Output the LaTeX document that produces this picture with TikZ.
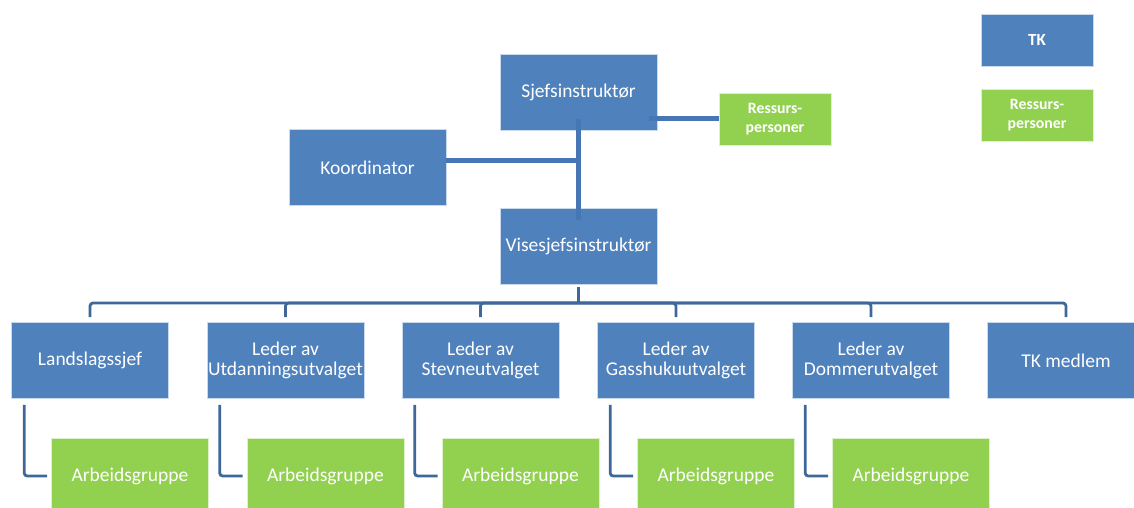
\documentclass[tikz,border=0pt]{standalone}
\usepackage{fontspec}
\setmainfont{Carlito}
\usetikzlibrary{positioning}

\definecolor{tkblue}{HTML}{4F81BD}
\definecolor{resgreen}{HTML}{92D050}
\definecolor{linkblue}{HTML}{4676B4}
\definecolor{busblue}{HTML}{3D6899}

\begin{document}
\begin{tikzpicture}[x=1pt,y=-1pt,
  tkbox/.style={fill=tkblue,draw=white!70!tkblue,line width=0.6pt,text=white,
    minimum width=157pt,minimum height=76pt,inner sep=0pt,align=center,
    font=\fontsize{19.5}{20}\selectfont},
  groupbox/.style={tkbox,fill=resgreen,draw=white!70!resgreen},
  resbox/.style={fill=resgreen,draw=white!70!resgreen,line width=0.6pt,text=white,
    minimum width=112pt,minimum height=52pt,inner sep=0pt,align=center,
    font=\fontsize{15.8}{19}\selectfont\bfseries},
  link/.style={draw=linkblue,line width=5pt},
  bus/.style={draw=busblue,line width=2.8pt,rounded corners=3pt}]
  \clip (0,0) rectangle (1134,508);

  % top of the chart
  \node[tkbox] (sjef) at (578.5,92.5) {Sjefsinstruktør};
  \node[resbox] (res) at (775,119) {Ressurs-\\personer};
  \node[tkbox] (koord) at (367.5,167.5) {Koordinator};
  \node[tkbox] (vise) at (578.5,246.5) {Visesjefsinstruktør};

  % legend
  \node[resbox,fill=tkblue,draw=white!70!tkblue,font=\fontsize{17}{19}\selectfont\bfseries]
    (legtk) at (1037,40) {TK};
  \node[resbox] (legres) at (1037,115) {Ressurs-\\personer};

  % row of leaders
  \node[tkbox] (lands) at (90,360.5) {Landslagssjef};
  \node[tkbox] (utd) at (285.5,360.5) {Leder av\\Utdanningsutvalget};
  \node[tkbox] (stevne) at (480.5,360.5) {Leder av\\Stevneutvalget};
  \node[tkbox] (gass) at (676,360.5) {Leder av\\Gasshukuutvalget};
  \node[tkbox] (dommer) at (871,360.5) {Leder av\\Dommerutvalget};
  \node[tkbox] (medlem) at (1066,360.5) {TK medlem};

  % working groups
  \node[groupbox] (grp1) at (130,476) {Arbeidsgruppe};
  \node[groupbox] (grp2) at (325.5,476) {Arbeidsgruppe};
  \node[groupbox] (grp3) at (520.5,476) {Arbeidsgruppe};
  \node[groupbox] (grp4) at (716,476) {Arbeidsgruppe};
  \node[groupbox] (grp5) at (911,476) {Arbeidsgruppe};

  % links at the top
  \draw[link] ([yshift=12pt]sjef.south) -- ([yshift=-12pt]vise.north);
  \coordinate (kj) at ([yshift=7pt]koord.east);
  \draw[link] (kj) -- (kj -| sjef.south);
  \coordinate (rj) at ([xshift=-8pt]sjef.east |- res.west);
  \draw[link] (rj) -- (res.west);

  % bus to the leaders
  \coordinate (bus) at (578.5,303);
  \draw[bus] ([yshift=-2pt]vise.south) -- (bus);
  \foreach \n in {lands,utd,stevne,gass,dommer,medlem}
    \draw[bus] (bus) -| ([yshift=5pt]\n.north);

  % leaders to their groups
  \draw[bus] ([xshift=13pt,yshift=-6pt]lands.south west) |- ([xshift=-4pt]grp1.west);
  \draw[bus] ([xshift=13pt,yshift=-6pt]utd.south west) |- ([xshift=-4pt]grp2.west);
  \draw[bus] ([xshift=13pt,yshift=-6pt]stevne.south west) |- ([xshift=-4pt]grp3.west);
  \draw[bus] ([xshift=13pt,yshift=-6pt]gass.south west) |- ([xshift=-4pt]grp4.west);
  \draw[bus] ([xshift=13pt,yshift=-6pt]dommer.south west) |- ([xshift=-4pt]grp5.west);
\end{tikzpicture}
\end{document}
